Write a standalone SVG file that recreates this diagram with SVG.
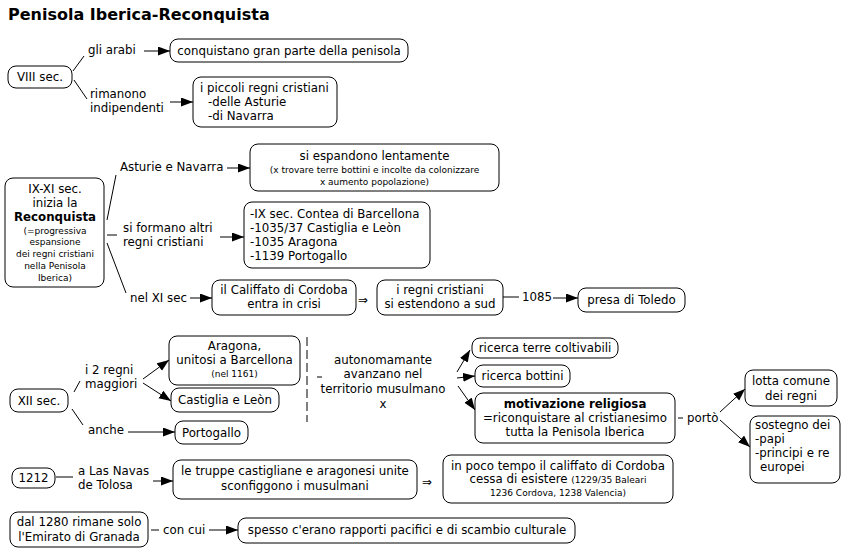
<svg xmlns="http://www.w3.org/2000/svg" width="841" height="550" viewBox="0 0 841 550">
<defs>
<style>
text{font-family:"DejaVu Sans",Verdana,sans-serif;font-size:11.8px;fill:#000}
.c{text-anchor:middle}
.s{font-size:9px}
.bo{font-weight:bold}
.t{font-size:16px;font-weight:bold}
rect{fill:#fff;stroke:#000;stroke-width:1}
.ln{stroke:#000;stroke-width:1;fill:none}
.ar{stroke:#000;stroke-width:1;fill:none;marker-end:url(#ah)}
</style>
<marker id="ah" markerUnits="userSpaceOnUse" markerWidth="13" markerHeight="10" refX="12" refY="4.5" orient="auto">
<path d="M0,0 L12,4.5 L0,9 z" fill="#000"/>
</marker>
</defs>
<rect width="841" height="550" style="fill:#fff;stroke:none"/>
<text x="8" y="20" class="t">Penisola Iberica-Reconquista</text>

<g id="connectors">
<line class="ln" x1="73" y1="71" x2="84" y2="56"/>
<line class="ar" x1="144" y1="51" x2="170" y2="51"/>
<line class="ln" x1="74" y1="80" x2="87" y2="99"/>
<line class="ar" x1="170" y1="102" x2="193" y2="102"/>
<line class="ln" x1="107" y1="220" x2="116" y2="175"/>
<line class="ar" x1="227" y1="168" x2="250" y2="168"/>
<line class="ln" x1="107" y1="235" x2="117" y2="235"/>
<line class="ar" x1="220" y1="237" x2="244" y2="237"/>
<line class="ln" x1="107" y1="243" x2="126" y2="293"/>
<line class="ar" x1="190" y1="298" x2="212" y2="298"/>
<line class="ln" x1="503" y1="297" x2="519" y2="297"/>
<line class="ar" x1="553" y1="298" x2="578" y2="298"/>
<line class="ln" x1="74" y1="392" x2="80" y2="381"/>
<line class="ar" x1="143" y1="379" x2="169" y2="360"/>
<line class="ar" x1="143" y1="383" x2="171" y2="401"/>
<line class="ln" x1="72" y1="409" x2="83" y2="425"/>
<line class="ar" x1="128" y1="432" x2="175" y2="432"/>
<line class="ln" x1="307" y1="337" x2="307" y2="422" stroke-dasharray="9,4"/>
<line class="ln" x1="317" y1="377" x2="322" y2="377"/>
<line class="ar" x1="457" y1="372" x2="470" y2="350"/>
<line class="ar" x1="457" y1="378" x2="475" y2="376"/>
<line class="ar" x1="458" y1="386" x2="475" y2="410"/>
<line class="ln" x1="678" y1="418" x2="683" y2="418"/>
<line class="ar" x1="720" y1="412" x2="745" y2="389"/>
<line class="ar" x1="720" y1="420" x2="750" y2="447"/>
<line class="ln" x1="56" y1="477" x2="73" y2="477"/>
<line class="ar" x1="153" y1="481" x2="173" y2="481"/>
<line class="ln" x1="151" y1="530" x2="159" y2="530"/>
<line class="ar" x1="209" y1="530" x2="238" y2="530"/>
</g>

<g id="labels">
<text x="88" y="54">gli arabi</text>
<text x="90" y="98">rimanono</text>
<text x="90" y="112">indipendenti</text>
<text x="120" y="171">Asturie e Navarra</text>
<text x="123" y="232">si formano altri</text>
<text x="123" y="246">regni cristiani</text>
<text x="130" y="302">nel XI sec</text>
<text x="363" y="304" class="c">⇒</text>
<text x="522" y="301">1085</text>
<text x="85" y="374">i 2 regni</text>
<text x="85" y="388">maggiori</text>
<text x="88" y="434">anche</text>
<text x="383" y="364" class="c">autonomamante</text>
<text x="383" y="378" class="c">avanzano nel</text>
<text x="383" y="393" class="c">territorio musulmano</text>
<text x="383" y="408" class="c">x</text>
<text x="687" y="422">portò</text>
<text x="78" y="475">a Las Navas</text>
<text x="78" y="489">de Tolosa</text>
<text x="427" y="486" class="c">⇒</text>
<text x="163" y="534">con cui</text>
</g>

<g id="n_viii"><rect x="8" y="66" width="64" height="22" rx="8"/><text x="40" y="81" class="c">VIII sec.</text></g>
<g id="n_conquistano"><rect x="170" y="39" width="238" height="23" rx="8"/><text x="289" y="55" class="c">conquistano gran parte della penisola</text></g>
<g id="n_piccoli"><rect x="193" y="77" width="144" height="50" rx="8"/><text x="200" y="92">i piccoli regni cristiani</text><text x="208" y="106">-delle Asturie</text><text x="208" y="120">-di Navarra</text></g>

<g id="n_ixxi"><rect x="5" y="178" width="99" height="109" rx="8"/>
<text x="55" y="193" class="c">IX-XI sec.</text>
<text x="55" y="207" class="c">inizia la</text>
<text x="55" y="221" class="c bo">Reconquista</text>
<text x="55" y="234" class="c s">(=progressiva</text>
<text x="55" y="245" class="c s">espansione</text>
<text x="55" y="257" class="c s">dei regni cristiani</text>
<text x="55" y="269" class="c s">nella Penisola</text>
<text x="55" y="281" class="c s">Iberica)</text></g>
<g id="n_espandono"><rect x="250" y="144" width="249" height="47" rx="8"/>
<text x="374.5" y="160" class="c">si espandono lentamente</text>
<text x="374.5" y="173" class="c s">(x trovare terre bottini e incolte da colonizzare</text>
<text x="374.5" y="185" class="c s">x aumento popolazione)</text></g>
<g id="n_contea"><rect x="244" y="202" width="186" height="66" rx="8"/>
<text x="250" y="218">-IX sec. Contea di Barcellona</text>
<text x="250" y="232">-1035/37 Castiglia e Leòn</text>
<text x="250" y="246">-1035 Aragona</text>
<text x="250" y="260">-1139 Portogallo</text></g>
<g id="n_califfato"><rect x="212" y="280" width="144" height="35" rx="8"/>
<text x="284" y="294" class="c">il Califfato di Cordoba</text>
<text x="284" y="308" class="c">entra in crisi</text></g>
<g id="n_sud"><rect x="377" y="280" width="126" height="35" rx="8"/>
<text x="440" y="294" class="c">i regni cristiani</text>
<text x="440" y="308" class="c">si estendono a sud</text></g>
<g id="n_toledo"><rect x="578" y="288" width="107" height="24" rx="8"/><text x="631.5" y="304" class="c">presa di Toledo</text></g>

<g id="n_xii"><rect x="10" y="389" width="58" height="23" rx="8"/><text x="39" y="405" class="c">XII sec.</text></g>
<g id="n_aragona"><rect x="169" y="336" width="131" height="49" rx="8"/>
<text x="234.5" y="350" class="c">Aragona,</text>
<text x="234.5" y="364" class="c">unitosi a Barcellona</text>
<text x="234.5" y="377" class="c s">(nel 1161)</text></g>
<g id="n_castiglia"><rect x="171" y="388" width="108" height="24" rx="8"/><text x="225" y="404" class="c">Castiglia e Leòn</text></g>
<g id="n_portogallo"><rect x="175" y="421" width="73" height="23" rx="8"/><text x="211.5" y="437" class="c">Portogallo</text></g>
<g id="n_terre"><rect x="472" y="338" width="146" height="20" rx="8"/><text x="545" y="352" class="c">ricerca terre coltivabili</text></g>
<g id="n_bottini"><rect x="475" y="365" width="95" height="22" rx="8"/><text x="522.5" y="380" class="c">ricerca bottini</text></g>
<g id="n_motivazione"><rect x="475" y="393" width="200" height="50" rx="8"/>
<text x="575" y="408" class="c bo">motivazione religiosa</text>
<text x="575" y="422" class="c">=riconquistare al cristianesimo</text>
<text x="575" y="436" class="c">tutta la Penisola Iberica</text></g>
<g id="n_lotta"><rect x="745" y="370" width="92" height="36" rx="8"/>
<text x="791" y="385" class="c">lotta comune</text>
<text x="791" y="400" class="c">dei regni</text></g>
<g id="n_sostegno"><rect x="750" y="416" width="90" height="67" rx="8"/>
<text x="755" y="429">sostegno dei</text>
<text x="755" y="443">-papi</text>
<text x="755" y="457">-principi e re</text>
<text x="760" y="471">europei</text></g>

<g id="n_1212"><rect x="12" y="468" width="43" height="20" rx="8"/><text x="33.5" y="482" class="c">1212</text></g>
<g id="n_truppe"><rect x="173" y="460" width="244" height="39" rx="8"/>
<text x="295" y="475" class="c">le truppe castigliane e aragonesi unite</text>
<text x="295" y="490" class="c">sconfiggono i musulmani</text></g>
<g id="n_pocotempo"><rect x="443" y="455" width="230" height="48" rx="8"/>
<text x="558" y="470" class="c">in poco tempo il califfato di Cordoba</text>
<text x="558" y="483" class="c">cessa di esistere <tspan class="s">(1229/35 Baleari</tspan></text>
<text x="558" y="496" class="c s">1236 Cordova, 1238 Valencia)</text></g>
<g id="n_granada"><rect x="10" y="512" width="138" height="35" rx="8"/>
<text x="79" y="526" class="c">dal 1280 rimane solo</text>
<text x="79" y="541" class="c">l'Emirato di Granada</text></g>
<g id="n_spesso"><rect x="238" y="518" width="337" height="25" rx="8"/><text x="407" y="534" class="c">spesso c'erano rapporti pacifici e di scambio culturale</text></g>
</svg>
